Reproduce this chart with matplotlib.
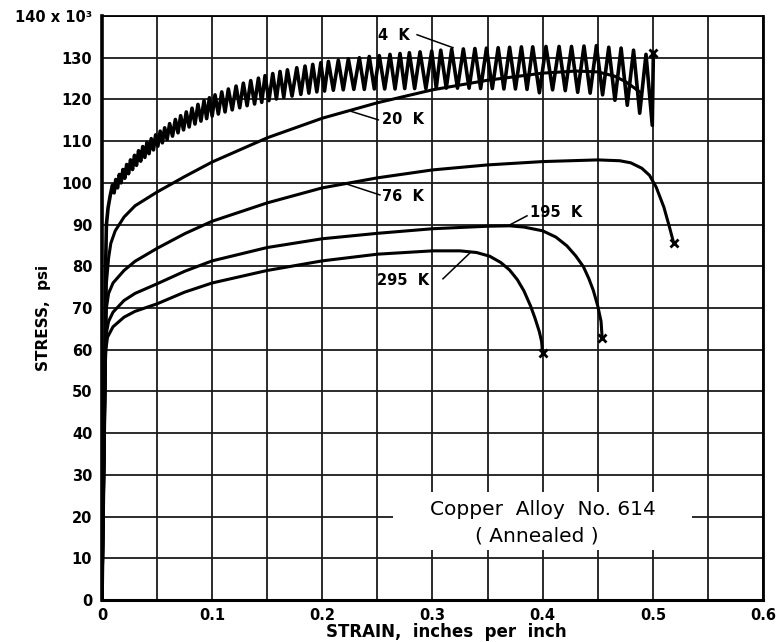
import matplotlib
matplotlib.use("Agg")
import matplotlib.pyplot as plt
from matplotlib.patches import Rectangle

# ---- data (strain in in/in, stress in ksi) ----
strain_4k = [0, 0.0025, 0.0033, 0.004, 0.0055, 0.0075,
             0.0095, 0.011, 0.0125, 0.0141, 0.0157, 0.0173, 0.019, 0.0207, 0.0224, 0.0241,
             0.0259, 0.0277, 0.0295, 0.0313, 0.0332, 0.0351, 0.037, 0.0389, 0.0408, 0.0427,
             0.0447, 0.0467, 0.0487, 0.0507, 0.0528, 0.0548, 0.0569, 0.0591,
             0.0614, 0.064, 0.0666, 0.069, 0.0714, 0.074, 0.0765, 0.0791, 0.0817, 0.0844,
             0.0871, 0.0898, 0.0926, 0.095, 0.0975, 0.1, 0.1026, 0.1056,
             0.1087, 0.1117, 0.1147, 0.1182, 0.1217, 0.125, 0.1283, 0.1317, 0.135, 0.1385,
             0.142, 0.145, 0.148, 0.1515, 0.155, 0.1583, 0.1616, 0.165, 0.1683, 0.1725,
             0.1768, 0.1805, 0.1843, 0.1878, 0.1913, 0.195, 0.1986, 0.202, 0.2055, 0.21,
             0.2145, 0.219, 0.2236, 0.2286, 0.2336, 0.2381, 0.2426, 0.2472, 0.2517, 0.2566,
             0.2614, 0.266, 0.2705, 0.2748, 0.279, 0.2838, 0.2887, 0.294, 0.2993, 0.3034,
             0.3075, 0.3125,
             0.3174, 0.3227, 0.328, 0.3332, 0.3385, 0.3437, 0.349, 0.3543, 0.3596, 0.3648,
             0.370, 0.3753, 0.3807, 0.3858, 0.391, 0.397, 0.403, 0.409, 0.4149, 0.4205,
             0.4262, 0.4318, 0.4375, 0.4431, 0.4488, 0.4544, 0.46, 0.4656, 0.4712, 0.4768,
             0.4825, 0.4881, 0.4938, 0.4995, 0.5005]
stress_4k = [0, 50, 80, 90, 94, 97,
             99.5, 97.6, 100.8, 98.8, 102.0, 100.0, 103.2, 101.1, 104.4, 102.2,
             105.5, 103.2, 106.6, 104.2, 107.7, 105.2, 108.7, 106.1, 109.7, 107.0,
             110.6, 107.9, 111.5, 108.8, 112.4, 109.6, 113.2, 110.4,
             114.2, 111.2, 115.2, 112.0, 116.1, 112.7, 117.0, 113.4, 117.9, 114.1,
             118.8, 114.8, 119.7, 115.4, 120.4, 116.0, 121.1, 116.5,
             121.8, 117.0, 122.5, 117.5, 123.2, 118.0, 123.9, 118.5, 124.5, 118.9,
             125.1, 119.3, 125.7, 119.7, 126.2, 120.1, 126.7, 120.5, 127.1, 120.8,
             127.6, 121.2, 128.0, 121.5, 128.4, 121.8, 128.8, 122.0, 129.1, 122.2,
             129.4, 122.3, 129.7, 122.4, 130.0, 122.4, 130.3, 122.5, 130.5, 122.5,
             130.8, 122.5, 131.0, 122.6, 131.2, 122.6, 131.4, 122.6, 131.6, 122.7,
             131.8, 122.7,
             132.0, 122.7, 132.1, 122.7, 132.2, 122.6, 132.3, 122.6, 132.4, 122.5,
             132.5, 122.5, 132.6, 122.4, 132.6, 121.6, 132.7, 122.3, 132.7, 122.1,
             132.7, 121.7, 132.8, 121.5, 132.9, 121.1, 132.5, 119.8, 132.3, 118.6,
             131.8, 116.7, 130.8, 113.8, 131.2]

strain_20k = [0, 0.003, 0.004, 0.006, 0.008, 0.012, 0.02, 0.03, 0.05, 0.075, 0.1, 0.15,
              0.2, 0.25, 0.3, 0.35, 0.4, 0.43, 0.45, 0.465, 0.475, 0.483, 0.488]
stress_20k = [0, 60, 76, 82, 85.5, 88.5, 91.8, 94.5, 97.8, 101.5, 105.0, 110.8,
              115.5, 119.2, 122.3, 124.6, 126.3, 126.8, 126.6, 125.6, 124.3, 122.8, 121.8]

strain_76k = [0, 0.003, 0.004, 0.006, 0.01, 0.02, 0.03, 0.05, 0.075, 0.1, 0.15, 0.2,
              0.25, 0.3, 0.35, 0.4, 0.45, 0.47, 0.48, 0.49, 0.497, 0.503, 0.51, 0.515, 0.519]
stress_76k = [0, 60, 70, 73.5, 76, 79, 81.2, 84.3, 87.8, 90.8, 95.2, 98.8,
              101.2, 103.1, 104.3, 105.1, 105.5, 105.3, 104.8, 103.5, 101.8, 99.0, 94.2, 89.5, 85.5]

strain_195k = [0, 0.003, 0.004, 0.006, 0.01, 0.02, 0.03, 0.05, 0.075, 0.1, 0.15, 0.2,
               0.25, 0.3, 0.35, 0.37, 0.383, 0.4, 0.412, 0.422, 0.43, 0.437, 0.442,
               0.446, 0.45, 0.453, 0.454]
stress_195k = [0, 58, 64, 66.8, 69, 71.8, 73.5, 75.8, 78.8, 81.3, 84.5, 86.6,
               87.9, 89.0, 89.6, 89.7, 89.4, 88.5, 87.0, 84.9, 82.5, 79.9, 77.0,
               74.2, 70.5, 66.8, 62.8]

strain_295k = [0, 0.003, 0.0035, 0.005, 0.01, 0.02, 0.03, 0.05, 0.075, 0.1, 0.15, 0.2,
               0.25, 0.3, 0.325, 0.34, 0.352, 0.362, 0.37, 0.377, 0.383, 0.389, 0.393,
               0.397, 0.399, 0.4]
stress_295k = [0, 56, 60, 63, 65.5, 67.8, 69.2, 71, 73.8, 76, 79, 81.3,
               82.9, 83.7, 83.7, 83.3, 82.4, 80.9, 79.1, 76.8, 74.1, 70.5, 67.6,
               64.3, 62, 59.2]

x_ticks = [0, 0.1, 0.2, 0.3, 0.4, 0.5, 0.6]
x_labels = ["0", "0.1", "0.2", "0.3", "0.4", "0.5", "0.6"]
y_ticks = list(range(0, 150, 10))
y_labels = [str(v) for v in y_ticks[:-1]] + ["140 x 10\u00b3"]

fig = plt.figure(figsize=(7.84, 6.42), dpi=100)
ax = fig.add_axes([0.1301, 0.0654, 0.8431, 0.9097])

ax.set_xlim(0, 0.6)
ax.set_ylim(0, 140)
ax.set_xticks(x_ticks)
ax.set_xticklabels(x_labels, fontsize=10.5, fontweight="bold")
ax.set_xticks([0.05, 0.15, 0.25, 0.35, 0.45, 0.55], minor=True)
ax.set_yticks(y_ticks)
ax.set_yticklabels(y_labels, fontsize=10.5, fontweight="bold")
ax.tick_params(axis="both", which="both", length=0)
ax.tick_params(axis="x", pad=6)
ax.tick_params(axis="y", pad=7)
ax.grid(True, which="both", color="#1a1a1a", linewidth=1.3, zorder=1)
ax.set_axisbelow(True)

for side, lw in (("left", 2.6), ("bottom", 2.2), ("right", 2.0), ("top", 1.3)):
    ax.spines[side].set_linewidth(lw)

# white panel for the title, covering grid
ax.add_patch(Rectangle((0.264, 12), 0.272, 13.9, facecolor="white",
                       edgecolor="none", zorder=2))
ax.text(0.4, 21.6, "Copper  Alloy  No. 614", fontsize=14.5, ha="center",
        va="center", zorder=3)
ax.text(0.395, 15.4, "( Annealed )", fontsize=14.5, ha="center", va="center", zorder=3)

lw_curve = 2.2
ax.plot(strain_4k, stress_4k, color="black", lw=2.6, solid_joinstyle="round", zorder=4)
ax.plot(strain_20k, stress_20k, color="black", lw=lw_curve, zorder=4)
ax.plot(strain_76k, stress_76k, color="black", lw=lw_curve, zorder=4)
ax.plot(strain_195k, stress_195k, color="black", lw=lw_curve, zorder=4)
ax.plot(strain_295k, stress_295k, color="black", lw=lw_curve, zorder=4)

# fracture marks
for xs, ys in ((strain_4k, stress_4k), (strain_76k, stress_76k),
               (strain_195k, stress_195k), (strain_295k, stress_295k)):
    ax.plot(xs[-1], ys[-1], marker="x", color="black", ms=6, mew=2, zorder=5)

# curve labels with leaders
lab = dict(fontsize=10.5, fontweight="bold", va="center", zorder=5)
ax.text(0.2505, 135.3, "4  K", ha="left", **lab)
ax.plot([0.286, 0.3186], [135.5, 132.4], color="black", lw=1.1, zorder=5)
ax.text(0.2545, 115.1, "20  K", ha="left", **lab)
ax.plot([0.2266, 0.2508], [117.1, 115.1], color="black", lw=1.1, zorder=5)
ax.text(0.2545, 96.8, "76  K", ha="left", **lab)
ax.plot([0.2188, 0.2523], [100.0, 97.1], color="black", lw=1.1, zorder=5)
ax.text(0.3885, 92.9, "195  K", ha="left", **lab)
ax.plot([0.370, 0.3858], [89.9, 92.1], color="black", lw=1.1, zorder=5)
ax.text(0.2496, 76.7, "295  K", ha="left", **lab)
ax.plot([0.3095, 0.334], [77.0, 83.2], color="black", lw=1.1, zorder=5)

fig.text(0.055, 0.505, "STRESS,  psi", rotation=90, ha="center", va="center",
         fontsize=11, fontweight="bold")
fig.text(0.569, 0.0156, "STRAIN,  inches  per  inch", ha="center", va="center",
         fontsize=12, fontweight="bold")

fig.savefig("out.png", dpi=100)
